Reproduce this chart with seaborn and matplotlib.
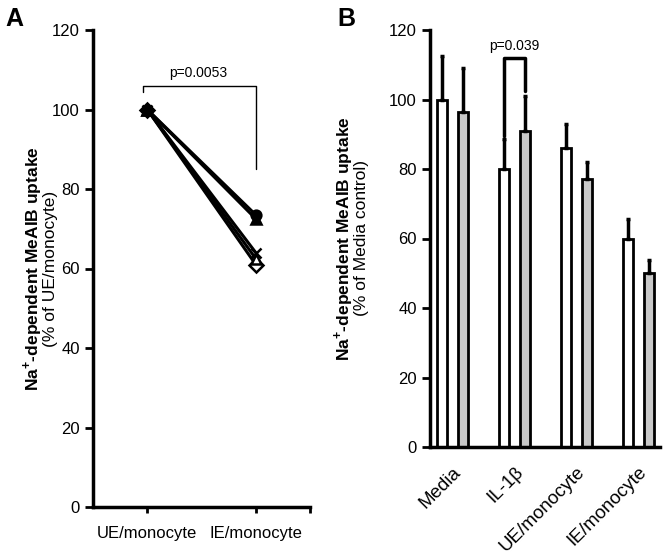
import matplotlib
matplotlib.use('Agg')
import matplotlib.pyplot as plt
import pandas as pd
import seaborn as sns

# Panel A: paired values, one line per donor
conditions_a = ['UE/monocyte', 'IE/monocyte']
ue_values = [100, 100, 100, 100, 100]
ie_values = [73.5, 72.5, 64.0, 62.5, 61.0]
marker_shapes = ['o', '^', 'x', '^', 'D']
marker_filled = [True, True, True, False, False]

# Panel B: means and upper error bars
treatments = ['Media', 'IL-1β', 'UE/monocyte', 'IE/monocyte']
sets_b = ['Set 1', 'Set 2']
white_means = [100, 80, 86, 59.8]
white_err = [12.5, 8.5, 7.0, 5.9]
gray_means = [96.5, 91, 77, 50]
gray_err = [12.5, 10.0, 5.0, 3.7]

sns.set_style('ticks')
plt.rcParams['font.family'] = ['Liberation Sans', 'DejaVu Sans']
plt.rcParams['mathtext.fontset'] = 'custom'
plt.rcParams['mathtext.rm'] = 'Liberation Sans'
plt.rcParams['mathtext.bf'] = 'Liberation Sans:bold'
for k in ['text.color', 'axes.edgecolor', 'xtick.color', 'ytick.color', 'axes.labelcolor']:
    plt.rcParams[k] = 'black'

fig = plt.figure(figsize=(6.64, 5.57), dpi=100)
axA = fig.add_axes([93/664, 1-507/557, 217/664, 477/557])
axB = fig.add_axes([430/664, 1-447/557, 230/664, 417/557])

# ---- Panel A
rows = []
for i in range(len(ue_values)):
    rows.append({'donor': i, 'condition': conditions_a[0], 'value': ue_values[i]})
    rows.append({'donor': i, 'condition': conditions_a[1], 'value': ie_values[i]})
df_a = pd.DataFrame(rows)

for i in range(len(ue_values)):
    d = df_a[df_a['donor'] == i]
    face = 'black' if marker_filled[i] else 'white'
    sns.lineplot(data=d, x='condition', y='value', color='black', linewidth=2.2,
                 marker=marker_shapes[i], markersize=7, markerfacecolor=face,
                 markeredgecolor='black', markeredgewidth=1.8, ax=axA, zorder=5 - i)

axA.set_xlim(-0.5, 1.5)
axA.set_ylim(0, 120)
axA.set_yticks(range(0, 121, 20))
axA.set_xticks([0, 1])
axA.set_xticklabels(conditions_a)
axA.set_xticks([1.5], minor=True)
axA.set_xlabel('')
axA.set_ylabel('')
axA.tick_params(axis='both', labelsize=12, width=2, length=6)
axA.tick_params(axis='x', length=4, pad=10)
axA.tick_params(axis='x', which='minor', length=4, width=2)
for s in ['left', 'bottom']:
    axA.spines[s].set_linewidth(2.5)
sns.despine(ax=axA)

axA.plot([-0.04, -0.04, 1, 1], [104.5, 106, 106, 85], color='black', lw=1)
axA.text(0.47, 107.3, 'p=0.0053', ha='center', va='bottom', fontsize=10)

axA.text(-0.281, 0.5, r'Na$^{\mathbf{+}}$-dependent MeAIB uptake', transform=axA.transAxes,
         rotation=90, ha='center', va='center', fontsize=12.5, fontweight='bold')
axA.text(-0.194, 0.5, '(% of UE/monocyte)', transform=axA.transAxes,
         rotation=90, ha='center', va='center', fontsize=12.5)

# ---- Panel B
df_b = pd.DataFrame({
    'treatment': treatments * 2,
    'set': [sets_b[0]] * 4 + [sets_b[1]] * 4,
    'value': white_means + gray_means,
})
sns.barplot(data=df_b, x='treatment', y='value', hue='set', order=treatments,
            palette=['white', '#c8c8c8'], edgecolor='black', linewidth=2,
            width=0.68, gap=0.53, errorbar=None, legend=False, ax=axB)

for cont, errs in zip(axB.containers, [white_err, gray_err]):
    xs = [p.get_x() + p.get_width() / 2 for p in cont]
    hs = [p.get_height() for p in cont]
    axB.errorbar(xs, hs, yerr=[[0] * len(errs), errs], fmt='none', ecolor='black',
                 elinewidth=2.5, capsize=1.5, capthick=2.5, zorder=1)

axB.set_xlim(-0.36, 3.35)
axB.set_ylim(0, 120)
axB.set_yticks(range(0, 121, 20))
axB.set_xlabel('')
axB.set_ylabel('')
axB.tick_params(axis='y', labelsize=12, width=2, length=6)
axB.tick_params(axis='x', labelsize=13.5, length=0, pad=12)
for lab in axB.get_xticklabels():
    lab.set_rotation(45)
    lab.set_ha('right')
    lab.set_rotation_mode('anchor')
for s in ['left', 'bottom']:
    axB.spines[s].set_linewidth(2.5)
sns.despine(ax=axB)

axB.plot([1 - 0.17, 1 - 0.17, 1 + 0.17, 1 + 0.17], [89.5, 112, 112, 102.5], color='black', lw=2.5)
axB.text(1, 113.5, 'p=0.039', ha='center', va='bottom', fontsize=10)

axB.text(-0.378, 0.5, r'Na$^{\mathbf{+}}$-dependent MeAIB uptake', transform=axB.transAxes,
         rotation=90, ha='center', va='center', fontsize=12.5, fontweight='bold')
axB.text(-0.296, 0.5, '(% of Media control)', transform=axB.transAxes,
         rotation=90, ha='center', va='center', fontsize=12.5)

fig.text(5/664, 1-26/557, 'A', fontsize=18, fontweight='bold', va='baseline')
fig.text(337/664, 1-26/557, 'B', fontsize=18, fontweight='bold', va='baseline')

fig.savefig('out.png', dpi=100)
